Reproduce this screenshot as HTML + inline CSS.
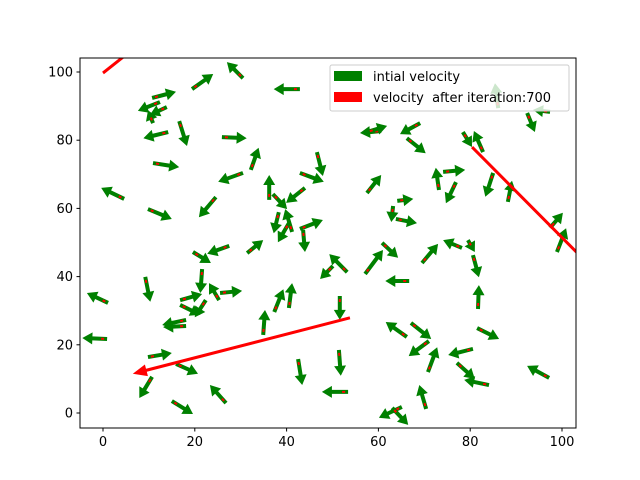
<!DOCTYPE html>
<html><head><meta charset="utf-8"><style>
html,body{margin:0;padding:0;background:#fff;}
svg{display:block;font-family:"DejaVu Sans","Liberation Sans",sans-serif;}
</style></head><body>
<svg id="chart" width="640" height="480">
<rect x="0" y="0" width="640" height="480" fill="#fff"/>
<defs><clipPath id="clip"><rect x="80" y="58" width="496" height="370"/></clipPath></defs>
<g id="plot" clip-path="url(#clip)"></g>
<g id="axes"></g>
<g id="legend">
<rect x="330" y="65" width="239" height="46" rx="2" fill="#fff" fill-opacity="0.8" stroke="#cccccc"/>
<rect x="334" y="71" width="28" height="10" fill="#008000"/>
<text x="373" y="81" font-size="13" fill="#000">intial velocity</text>
<rect x="334" y="92" width="28" height="10" fill="#ff0000"/>
<text x="373" y="102" font-size="13" fill="#000" style="white-space:pre" xml:space="preserve">velocity  after iteration:700</text>
</g>
</svg>
<script>
const xs=[30.5,19.4,42.9,10.7,13.9,12.4,10.9,14.2,16.6,25.9,10.9,4.6,9.8,24.6,32.2,46.6,42.9,30.5,36.2,44.0,37.0,38.3,41.2,40.5,42.9,43.6,60.6,57.5,69.1,66.2,78.4,82.8,74.1,73.2,76.9,57.5,85.0,88.2,64.1,63.2,63.8,97.4,98.9,92.4,97.4,86.1,19.6,27.5,31.4,9.2,1.1,0.9,21.6,16.8,22.4,25.3,25.5,16.8,18.1,18.1,34.9,37.3,40.5,9.8,15.9,10.7,26.8,15.0,42.5,53.2,50.1,57.1,60.8,66.7,69.5,78.2,80.6,79.5,81.7,51.6,51.4,53.4,66.2,67.1,71.0,70.8,80.6,77.1,84.1,81.5,97.2,70.4,65.1,63.0];
const ys=[98.2,95.0,95.0,92.4,89.7,91.2,85.0,82.4,85.6,80.9,73.3,62.8,59.8,63.3,71.3,76.5,70.4,70.4,62.5,66.0,64.2,58.9,53.1,55.7,54.0,53.7,82.7,82.4,85.0,80.6,82.4,76.5,70.7,65.4,67.7,64.5,70.4,61.9,62.2,60.7,56.9,54.3,47.2,88.0,88.3,89.4,47.2,49.0,46.9,39.9,32.3,21.7,42.2,33.1,33.1,33.1,35.2,31.7,27.3,25.5,22.9,29.6,30.8,16.4,14.4,10.6,2.9,3.5,15.8,41.3,43.1,40.8,49.9,38.7,44.0,48.4,46.3,50.7,30.5,34.3,18.5,6.2,22.3,26.4,21.1,12.0,18.8,14.7,8.2,24.9,10.3,1.2,1.8,1.5];
const us=[-3.5,4.6,-5.7,5.2,-3.7,-4.8,-1.1,-5.4,1.7,5.4,5.7,-5.0,5.2,-3.7,1.7,1.3,5.2,-5.4,0,-4.1,3.1,-1.1,-1.5,-2.4,5.0,0.4,-4.6,4.4,-4.4,4.1,2.0,-2.0,4.8,-0.7,-2.2,3.1,-1.7,0.9,3.5,-0.4,4.6,2.8,2.0,1.7,-3.7,-0.7,3.9,-4.8,3.5,1.1,-4.6,-5.4,-0.4,4.8,-2.4,-2.2,4.8,4.4,-5.2,-5.0,0.4,2.0,0.7,5.2,4.8,-2.8,-3.5,4.6,0.9,-3.9,-2.8,3.9,3.5,-5.2,3.5,-4.1,1.3,1.5,0.2,0,0.4,-5.7,-4.6,4.4,-4.4,2.0,-5.4,3.9,-5.4,4.8,-4.8,-1.5,-5.0,3.5];
const vs=[4.7,4.4,0,1.8,-2.3,-2.6,3.8,-1.8,-7.3,-0.3,-1.2,3.2,-2.9,-5.9,6.5,-7.0,-2.6,-2.6,7.3,-4.4,-4.4,-6.2,6.7,-5.6,2.6,-6.5,-0.6,1.8,-3.2,-4.4,-4.4,6.2,0.6,6.5,-6.2,5.3,-7.0,6.2,0.6,-4.7,-1.2,4.4,7.0,-5.6,0.6,7.3,-3.2,-2.3,3.8,-7.3,2.9,0.3,-7.0,1.8,-5.0,5.0,0.6,-2.9,-1.5,-0.3,7.3,6.7,7.3,1.2,-2.9,-6.2,5.3,-3.8,-7.6,5.3,-3.8,7.0,-4.4,0,5.6,2.3,-6.5,-3.5,7.0,-7.0,-7.6,0,4.4,-4.7,-4.4,7.3,-1.8,-4.7,1.5,-3.2,3.5,7.0,-3.2,-5.0];
const rxs=[53.8,80.4,0];
const rys=[27.9,78.0,99.7];
const rus=[-47.3,27.9,10.2];
const rvs=[-16.4,-37.8,10.9];
const xTicks=[0,20,40,60,80,100];
const yTicks=[0,20,40,60,80,100];
const NS="http://www.w3.org/2000/svg";
function sx(x){return 103+(x)*4.59;}
function sy(y){return 413-(y)*3.41;}
function arrowPts(x0,y0,dx,dy,hw,hh,hl){
  const L=Math.hypot(dx,dy),ux=dx/L,uy=dy/L,nx=-uy,ny=ux;
  const b=L-hl;
  const p=[[0,hw],[b,hw],[b,hh],[L,0],[b,-hh],[b,-hw],[0,-hw]];
  return p.map(([a,c])=>(x0+ux*a+nx*c).toFixed(1)+","+(y0+uy*a+ny*c).toFixed(1)).join(" ");
}
const plot=document.getElementById('plot');
for(let i=0;i<xs.length;i++){
  const x0=sx(xs[i]),y0=sy(ys[i]),dx=us[i]*4.59,dy=-vs[i]*3.41;
  const g=document.createElementNS(NS,'polygon');
  g.setAttribute('points',arrowPts(x0,y0,dx,dy,2,6,10));
  g.setAttribute('fill','#008000');
  
  
  plot.appendChild(g);
  const L=Math.hypot(dx,dy);
  const r=document.createElementNS(NS,'line');
  r.setAttribute('x1',(x0+dx/L*3).toFixed(1));r.setAttribute('y1',(y0+dy/L*3).toFixed(1));
  r.setAttribute('x2',(x0+dx/L*6).toFixed(1));r.setAttribute('y2',(y0+dy/L*6).toFixed(1));
  r.setAttribute('stroke','#ff0000');r.setAttribute('stroke-width','2');
  
  
  plot.appendChild(r);
}
for(let i=0;i<rxs.length;i++){
  const p=document.createElementNS(NS,'polygon');
  p.setAttribute('points',arrowPts(sx(rxs[i]),sy(rys[i]),rus[i]*4.59,-rvs[i]*3.41,1.5,6,14));
  p.setAttribute('fill','#ff0000');
  
  
  plot.appendChild(p);
}
const axes=document.getElementById('axes');
const frame=document.createElementNS(NS,'rect');
frame.setAttribute('x','80');frame.setAttribute('y','58');frame.setAttribute('width','496');frame.setAttribute('height','370');
frame.setAttribute('fill','none');frame.setAttribute('stroke','#000');frame.setAttribute('stroke-width','1');


axes.appendChild(frame);
xTicks.forEach(t=>{
  const x=sx(t);
  const l=document.createElementNS(NS,'line');
  l.setAttribute('x1',x);l.setAttribute('x2',x);l.setAttribute('y1',428);l.setAttribute('y2',431.5);l.setAttribute('stroke','#000');
  
  
  axes.appendChild(l);
  const tx=document.createElementNS(NS,'text');
  tx.setAttribute('x',x);tx.setAttribute('y',446);tx.setAttribute('text-anchor','middle');tx.setAttribute('font-size','13');
  tx.textContent=t;
  
  
  axes.appendChild(tx);
});
yTicks.forEach(t=>{
  const y=sy(t);
  const l=document.createElementNS(NS,'line');
  l.setAttribute('x1',76.5);l.setAttribute('x2',80);l.setAttribute('y1',y);l.setAttribute('y2',y);l.setAttribute('stroke','#000');
  
  
  axes.appendChild(l);
  const tx=document.createElementNS(NS,'text');
  tx.setAttribute('x',73);tx.setAttribute('y',y+4.5);tx.setAttribute('text-anchor','end');tx.setAttribute('font-size','13');
  tx.textContent=t;
  
  
  axes.appendChild(tx);
});
</script>
</body></html>
